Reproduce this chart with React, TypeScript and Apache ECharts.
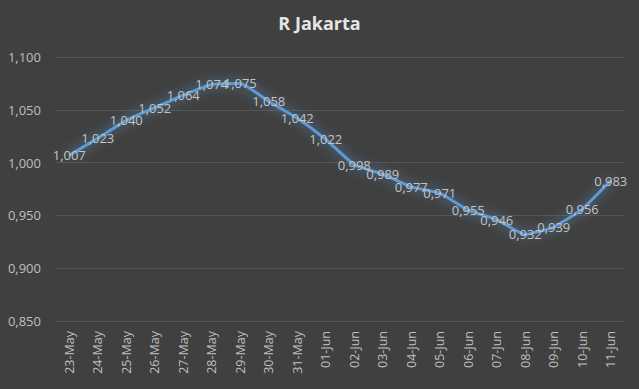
import React, { useEffect, useRef } from "react";
import * as echarts from "echarts";

const categories = ["23-May","24-May","25-May","26-May","27-May","28-May","29-May","30-May","31-May","01-Jun","02-Jun","03-Jun","04-Jun","05-Jun","06-Jun","07-Jun","08-Jun","09-Jun","10-Jun","11-Jun"];
const rValues = [1.007,1.023,1.040,1.052,1.064,1.074,1.075,1.058,1.042,1.022,0.998,0.989,0.977,0.971,0.955,0.946,0.932,0.939,0.956,0.983];
const yTicks = { min: 0.85, max: 1.1, interval: 0.05 };

const fmt = (v: number) => v.toFixed(3).replace(".", ",");

export default function App() {
  const ref = useRef<HTMLDivElement>(null);
  useEffect(() => {
    if (!ref.current) return;
    const chart = echarts.init(ref.current, undefined, { renderer: "svg" });
    chart.setOption({
      animation: false,
      backgroundColor: "#404040",
      title: {
        text: "R Jakarta",
        left: "center",
        top: 9,
        textStyle: { color: "#e6e6e6", fontSize: 18, fontWeight: "bold", fontFamily: "Open Sans" },
      },
      grid: { left: 55, right: 14, top: 57, bottom: 68 },
      xAxis: {
        type: "category",
        data: categories,
        boundaryGap: true,
        axisLine: { show: false },
        axisTick: { show: false },
        axisLabel: { rotate: 90, color: "#bfbfbf", fontSize: 12.5, fontFamily: "Open Sans", margin: 10, interval: 0 },
      },
      yAxis: {
        type: "value",
        min: yTicks.min,
        max: yTicks.max,
        interval: yTicks.interval,
        axisLine: { show: false },
        axisTick: { show: false },
        splitLine: { lineStyle: { color: "#555555", width: 1 } },
        axisLabel: { color: "#bfbfbf", fontSize: 13, fontFamily: "Open Sans", margin: 14, formatter: (v: number) => fmt(v) },
      },
      series: [
        {
          type: "line",
          data: rValues,
          smooth: 0.15,
          symbol: "circle",
          symbolSize: 2,
          showSymbol: true,
          showAllSymbol: true,
          itemStyle: { color: "rgba(0,0,0,0)", borderWidth: 0 },
          lineStyle: { color: "#5b9bd5", width: 3, shadowBlur: 12, shadowColor: "rgba(91,155,213,0.9)" },
          labelLayout: { hideOverlap: false },
          label: {
            show: true,
            position: "inside",
            color: "#c4c4c4",
            fontSize: 13,
            fontFamily: "Open Sans",
            formatter: (p: any) => fmt(p.value),
          },
        },
      ],
    });
    return () => chart.dispose();
  }, []);
  return <div ref={ref} style={{ width: 639, height: 389, position: "absolute", left: 0, top: 0 }} />;
}
